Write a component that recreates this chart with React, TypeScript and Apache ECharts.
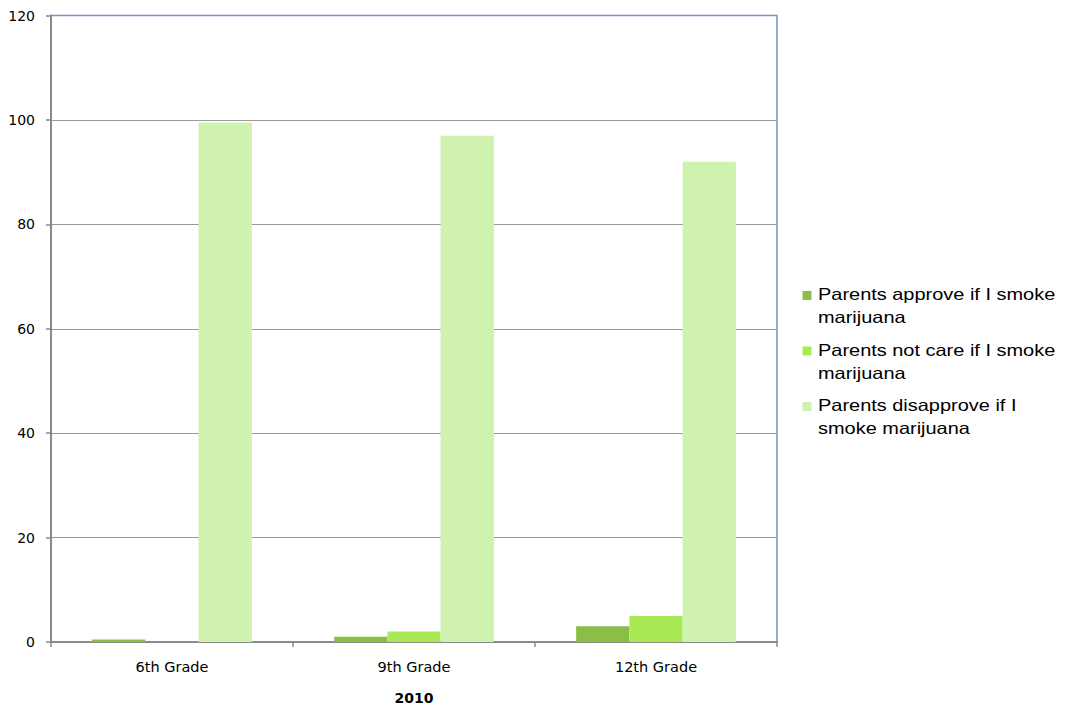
import React, { useEffect, useRef } from "react";
import * as echarts from "echarts";

// Grade levels on the category axis
const grades = ["6th Grade", "9th Grade", "12th Grade"];

// Percent of students per parental attitude toward their marijuana use
const approveValues = [0.5, 1, 3];
const notCareValues = [0, 2, 5];
const disapproveValues = [99.5, 97, 92];

const seriesNames = [
  "Parents approve if I smoke marijuana",
  "Parents not care if I smoke marijuana",
  "Parents disapprove if I smoke marijuana",
];
// Wrapped legend labels
const legendLines = [
  ["Parents approve if I smoke", "marijuana"],
  ["Parents not care if I smoke", "marijuana"],
  ["Parents disapprove if I", "smoke marijuana"],
];
const seriesColors = ["#89bf47", "#a9e955", "#cff2ae"];

const yTicks = { min: 0, max: 120, interval: 20 };
const axisTitle = "2010";

export default function App() {
  const ref = useRef<HTMLDivElement>(null);

  useEffect(() => {
    if (!ref.current) return;
    const chart = echarts.init(ref.current, undefined, { renderer: "svg" });

    const valueSets = [approveValues, notCareValues, disapproveValues];

    // Legend drawn as graphic items so the wide label text can be stretched
    const legendGraphics: any[] = [];
    const legendLeft = 802.5;
    const legendTop = 282.7;
    const legendStep = 55.5;
    legendLines.forEach((lines, i) => {
      const top = legendTop + i * legendStep;
      legendGraphics.push({
        type: "rect",
        x: legendLeft,
        y: top + 8.3,
        shape: { x: 0, y: 0, width: 9, height: 9 },
        style: { fill: seriesColors[i] },
        silent: true,
      });
      legendGraphics.push({
        type: "text",
        x: 818,
        y: top,
        scaleX: 1.21,
        style: {
          text: lines.join("\n"),
          fontFamily: "Liberation Sans, Arial, sans-serif",
          fontSize: 16.5,
          lineHeight: 23,
          fill: "#000",
          verticalAlign: "top",
          align: "left",
        },
        silent: true,
      });
    });

    chart.setOption({
      animation: false,
      backgroundColor: "#ffffff",
      grid: {
        left: 51,
        right: 289,
        top: 15.6,
        bottom: 69,
        show: true,
        borderColor: "#6f93cc",
        borderWidth: 1.5,
        containLabel: false,
      },
      xAxis: {
        type: "category",
        data: grades,
        name: axisTitle,
        nameLocation: "middle",
        nameGap: 49,
        nameTextStyle: {
          fontFamily: "DejaVu Sans, sans-serif",
          fontSize: 14,
          fontWeight: "bold",
          color: "#000",
        },
        axisLine: { lineStyle: { color: "#8a8a8a", width: 2 } },
        axisTick: { show: true, length: 5, alignWithLabel: false, lineStyle: { color: "#8a8a8a", width: 1.5 } },
        axisLabel: {
          fontFamily: "DejaVu Sans, sans-serif",
          fontSize: 14.5,
          color: "#000",
          margin: 17,
        },
      },
      yAxis: {
        type: "value",
        min: yTicks.min,
        max: yTicks.max,
        interval: yTicks.interval,
        axisLine: { show: true, lineStyle: { color: "#8a8a8a", width: 2 } },
        axisTick: { show: true, length: 5, lineStyle: { color: "#8a8a8a", width: 1.5 } },
        axisLabel: {
          fontFamily: "DejaVu Sans, sans-serif",
          fontSize: 14,
          color: "#000",
          margin: 16,
        },
        splitLine: {
          show: true,
          showMaxLine: false,
          lineStyle: { color: "#9a9a9a", width: 1 },
        },
      },
      series: valueSets.map((vals, i) => ({
        name: seriesNames[i],
        type: "bar",
        data: vals,
        barGap: "0%",
        barCategoryGap: "34%",
        itemStyle: { color: seriesColors[i] },
        emphasis: { disabled: true },
      })),
      graphic: legendGraphics,
    });

    return () => chart.dispose();
  }, []);

  return (
    <div
      ref={ref}
      style={{ position: "absolute", left: 0, top: 0, width: 1066, height: 711 }}
    />
  );
}
